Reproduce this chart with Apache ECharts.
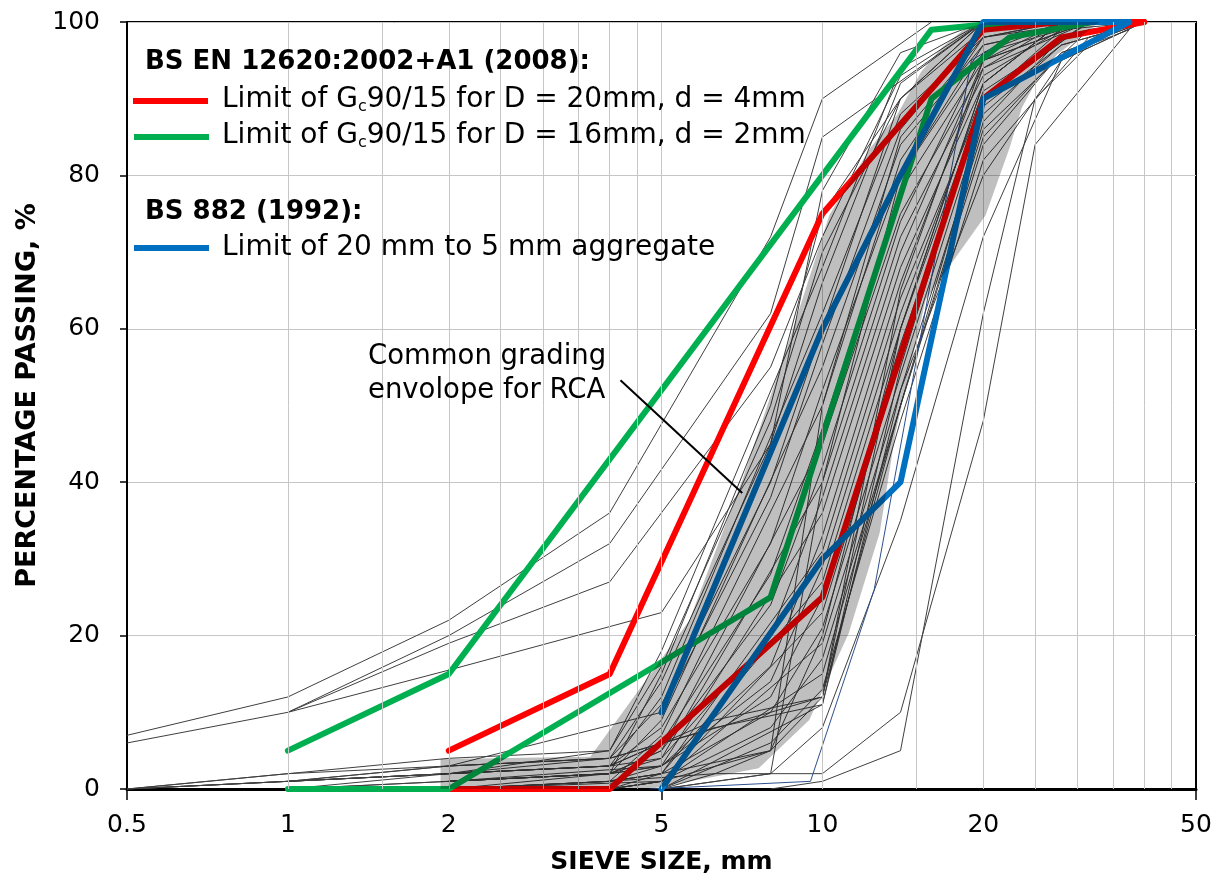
<!DOCTYPE html>
<html>
<head>
<meta charset="utf-8">
<script src="https://cdn.jsdelivr.net/npm/echarts@6/dist/echarts.min.js"></script>
<style>
  html, body { margin: 0; padding: 0; background: #ffffff; }
  #chart { width: 1226px; height: 883px; }
</style>
</head>
<body>
<div id="chart"></div>
<script>
// ---- axes ----
const xTickLabels = [0.5, 1, 2, 5, 10, 20, 50];
const xMajorTicks = [0.5, 5, 50];
const xGridLines = [1, 1.5, 2, 2.5, 3, 3.5, 4, 4.5, 5, 10, 15, 20, 25, 30, 35, 40, 45];
const yTickValues = [0, 20, 40, 60, 80, 100];

// ---- grading limits: [sieve size mm, % passing] ----
const en20x4Upper = [[2, 5], [4, 15], [10, 75], [20, 99], [28, 100], [40, 100]];
const en20x4Lower = [[2, 0], [4, 0], [10, 25], [20, 90], [28, 98], [40, 100]];
const en16x2Upper = [[1, 5], [2, 15], [16, 99], [22.4, 100], [32, 100]];
const en16x2Lower = [[1, 0], [2, 0], [8, 25], [16, 90], [22.4, 98], [32, 100]];
const bs20x5Upper = [[5, 10], [10, 60], [14, 80], [20, 100], [37.5, 100]];
const bs20x5Lower = [[5, 0], [10, 30], [14, 40], [20, 90], [37.5, 100]];

// ---- RCA grading curves ----
const rcaFine = [
  [[0.5, 7], [1, 12], [2, 22], [4, 36], [8, 72], [10, 90], [16, 100]],
  [[0.5, 6], [1, 10], [2, 20], [4, 32], [8, 62], [10, 85], [20, 100]],
  [[1, 10], [2, 15.5], [5, 23], [8, 45], [10, 78], [14, 96], [20, 100]],
  [[1, 10], [2, 19], [4, 27], [8, 55], [10, 72], [14, 93], [20, 100]]
];
const rcaMain = [
  [[0.5, 0], [1, 1], [2, 2], [4, 5], [5, 16], [8, 48], [10, 70], [14, 90], [20, 99], [28, 100]],
  [[0.5, 0], [1, 1], [2, 3], [4, 4], [5, 14], [8, 45], [10, 66], [14, 92], [20, 100]],
  [[1, 0], [2, 2], [4, 3], [5, 12], [10, 62], [14, 88], [20, 98], [31.5, 100]],
  [[0.5, 0], [1, 2], [2, 3], [5, 10], [8, 38], [10, 58], [14, 86], [20, 99], [28, 100]],
  [[2, 1], [4, 2], [5, 9], [10, 55], [14, 84], [20, 97], [31.5, 100]],
  [[1, 1], [2, 2], [4, 3], [5, 8], [8, 32], [10, 52], [14, 80], [20, 96], [28, 100]],
  [[2, 0], [4, 1], [5, 7], [10, 50], [14, 82], [20, 98], [28, 100]],
  [[0.5, 0], [1, 1], [2, 2], [4, 3], [5, 6], [8, 28], [10, 47], [14, 78], [20, 95], [31.5, 100]],
  [[2, 0], [4, 2], [5, 5], [10, 45], [14, 75], [20, 94], [28, 100]],
  [[1, 0], [2, 1], [4, 2], [5, 5], [8, 24], [10, 42], [14, 74], [20, 96], [31.5, 100]],
  [[2, 1], [4, 2], [5, 4], [10, 40], [14, 72], [20, 93], [28, 99], [40, 100]],
  [[0.5, 0], [1, 1], [2, 2], [4, 3], [5, 4], [8, 20], [10, 38], [14, 70], [20, 95], [31.5, 100]],
  [[2, 0], [4, 1], [5, 3], [10, 36], [14, 68], [20, 92], [28, 100]],
  [[2, 1], [5, 3], [8, 16], [10, 33], [14, 66], [20, 94], [31.5, 100]],
  [[4, 0], [5, 2], [10, 31], [14, 64], [20, 90], [28, 98], [40, 100]],
  [[1, 0], [2, 1], [4, 2], [5, 3], [8, 14], [10, 29], [14, 62], [20, 91], [31.5, 100]],
  [[2, 0], [4, 1], [5, 2], [10, 27], [14, 60], [20, 92], [28, 100]],
  [[2, 1], [4, 2], [5, 3], [8, 12], [10, 25], [14, 58], [20, 89], [28, 97], [40, 100]],
  [[4, 0], [5, 1], [10, 23], [14, 56], [20, 90], [31.5, 100]],
  [[2, 0], [4, 1], [5, 2], [8, 10], [10, 21], [14, 54], [20, 88], [28, 97], [40, 100]],
  [[4, 0], [5, 1], [10, 19], [14, 52], [20, 86], [31.5, 99], [40, 100]],
  [[2, 0], [5, 1], [8, 8], [10, 17], [14, 50], [20, 87], [28, 98], [40, 100]],
  [[4, 0], [5, 1], [10, 15], [14, 50], [20, 84], [28, 96], [40, 100]],
  [[5, 0], [8, 6], [10, 13], [14, 48], [20, 82], [31.5, 98], [40, 100]],
  [[4, 0], [5, 1], [8, 5], [10, 12], [14, 50], [20, 85], [28, 96], [40, 100]],
  [[5, 0], [10, 11], [14, 52], [20, 80], [28, 95], [40, 100]],
  [[2, 2], [4, 3], [6.3, 9], [10, 12], [14, 60], [20, 92], [28, 100]],
  [[2, 3], [4, 4], [6.3, 8], [10, 11], [14, 55], [20, 90], [31.5, 100]],
  [[1, 1], [2, 2], [4, 4], [8, 10], [10, 12], [14, 65], [20, 95], [28, 100]],
  [[0.5, 0], [1, 2], [2, 4], [4, 5], [5, 18], [10, 68], [14, 94], [20, 100]],
  [[1, 1], [2, 3], [4, 4], [5, 11], [8, 40], [10, 60], [14, 90], [20, 100]],
  [[4, 1], [5, 2], [8, 5], [10, 50], [14, 85], [20, 98], [28, 100]],
  [[5, 0], [8, 2], [10, 40], [14, 80], [20, 97], [31.5, 100]],
  [[2, 1], [4, 2], [5, 15], [8, 50], [10, 75], [14, 90], [20, 100]]
];
const rcaCoarse = [
  [[5, 0], [8, 2], [10, 2], [14, 10], [20, 48], [25, 84], [37.5, 99]],
  [[8, 0], [10, 1], [14, 5], [20, 62], [25, 90], [31.5, 97], [37.5, 99]],
  [[5, 0], [6.3, 2], [8, 2], [10, 8], [14, 35], [20, 72], [28, 95], [40, 100]],
  [[4, 1], [6.3, 2], [8, 5], [10, 20], [14, 60], [20, 90], [28, 99]]
];
const rcaNavy = [[4.75, 0], [9.5, 1], [12.5, 26], [19, 95], [25, 100]];

// ---- common grading envelope outline ----
const envelope = [
  [1.93, 0], [1.93, 3.9], [3.68, 4.2], [5.64, 22], [7.08, 40.3], [8.67, 58.5],
  [10.3, 74.8], [12.3, 83.6], [13.8, 87.9], [15.3, 93.5], [16.7, 96.6], [18.5, 99.2],
  [20.4, 100], [33, 100], [30.7, 98.3], [27.4, 95.7], [25.1, 92.2], [23.6, 88.8],
  [22.4, 83.6], [20.2, 74.8], [15.6, 63.8], [13.7, 46.4], [12.8, 33.4], [11.2, 20.3],
  [9.45, 9.0], [7.6, 2.7], [4.75, 0]
];
const arrowFrom = [4.19, 53.3];
const arrowTo = [7.08, 38.6];

const FONT = 'DejaVu Sans';
const chart = echarts.init(document.getElementById('chart'), null, { renderer: 'canvas' });

const thin = (data, color) => ({
  type: 'line', data, symbol: 'none', silent: true, z: 2,
  lineStyle: { color: color || '#3f3f3f', width: 1 }
});
const thick = (data, color) => ({
  type: 'line', data, symbol: 'none', silent: true, z: 3,
  lineStyle: { color, width: 6, cap: 'round', join: 'round' }
});

const series = [];
// vertical grid lines
series.push({
  type: 'line', data: [], silent: true, z: 1,
  markLine: {
    silent: true, symbol: 'none', animation: false,
    label: { show: false },
    lineStyle: { color: '#c6c6c6', width: 1, type: 'solid' },
    data: xGridLines.map(v => ({ xAxis: v }))
  }
});
rcaFine.forEach(d => series.push(thin(d)));
rcaMain.forEach(d => series.push(thin(d)));
rcaCoarse.forEach(d => series.push(thin(d)));
series.push(thin(rcaNavy, '#2c4f8f'));
series.push(thick(en20x4Upper, '#ff0000'));
series.push(thick(en20x4Lower, '#ff0000'));
series.push(thick(en16x2Upper, '#00b050'));
series.push(thick(en16x2Lower, '#00b050'));
series.push(thick(bs20x5Upper, '#0070c0'));
series.push(thick(bs20x5Lower, '#0070c0'));
// shaded envelope, laid semi-transparently over every curve
series.push({
  type: 'custom', silent: true, zlevel: 1, z: 4,
  data: [[1, 50]],
  renderItem: (params, api) => ({
    type: 'polygon',
    shape: { points: envelope.map(p => api.coord(p)) },
    style: { fill: 'rgba(0,0,0,0.25)', stroke: null }
  })
});
// annotation arrow
series.push({
  type: 'line', data: [], silent: true, zlevel: 1, z: 5,
  markLine: {
    silent: true, animation: false,
    symbol: ['none', 'arrow'], symbolSize: [0, 14],
    label: { show: false },
    lineStyle: { color: '#000000', width: 2, type: 'solid' },
    data: [[{ coord: arrowFrom }, { coord: arrowTo }]]
  }
});

const legendText = { fontFamily: FONT, fontSize: 28, fill: '#000' };
const legendRich = {
  s: { fontFamily: FONT, fontSize: 16, padding: [14, 0, 0, 0] }
};

chart.setOption({
  animation: false,
  backgroundColor: '#ffffff',
  grid: {
    left: 127, right: 30, top: 22, bottom: 94,
    show: true, borderColor: '#000000', borderWidth: 2, backgroundColor: 'transparent'
  },
  xAxis: {
    type: 'log', logBase: 10, min: 0.5, max: 50,
    name: 'SIEVE SIZE, mm', nameLocation: 'middle', nameGap: 61,
    nameTextStyle: { fontFamily: FONT, fontSize: 25, fontWeight: 'bold', color: '#000' },
    axisLine: { lineStyle: { color: '#000', width: 3 } },
    axisTick: { show: true, customValues: xMajorTicks, length: 11, lineStyle: { color: '#000', width: 1.5 } },
    axisLabel: {
      customValues: xTickLabels, margin: 24,
      fontFamily: FONT, fontSize: 25, color: '#000',
      formatter: v => String(+v.toPrecision(3))
    },
    splitLine: { show: false }
  },
  yAxis: {
    type: 'value', min: 0, max: 100, interval: 20,
    name: 'PERCENTAGE PASSING, %', nameLocation: 'middle', nameGap: 83, nameRotate: 90,
    nameTextStyle: { fontFamily: FONT, fontSize: 27, fontWeight: 'bold', color: '#000', padding: [0, 0, 0, 20] },
    axisLine: { show: true, lineStyle: { color: '#000', width: 2 } },
    axisTick: { show: true, length: 7, lineStyle: { color: '#000', width: 1.5 } },
    axisLabel: { margin: 27, fontFamily: FONT, fontSize: 25, color: '#000' },
    splitLine: { show: true, lineStyle: { color: '#c6c6c6', width: 1 } }
  },
  graphic: [
    { type: 'text', x: 145, y: 62, z: 10, style: { text: 'BS EN 12620:2002+A1 (2008):', fontFamily: FONT, fontSize: 26, fontWeight: 'bold', fill: '#000', verticalAlign: 'middle' } },
    { type: 'line', z: 10, shape: { x1: 133, y1: 101, x2: 208, y2: 101 }, style: { stroke: '#ff0000', lineWidth: 6 } },
    { type: 'text', x: 222, y: 100, z: 10, style: Object.assign({ text: 'Limit of G{s|c}90/15 for D = 20mm, d = 4mm', verticalAlign: 'middle', rich: legendRich }, legendText) },
    { type: 'line', z: 10, shape: { x1: 134, y1: 137, x2: 209, y2: 137 }, style: { stroke: '#00b050', lineWidth: 6 } },
    { type: 'text', x: 222, y: 136, z: 10, style: Object.assign({ text: 'Limit of G{s|c}90/15 for D = 16mm, d = 2mm', verticalAlign: 'middle', rich: legendRich }, legendText) },
    { type: 'text', x: 145, y: 212, z: 10, style: { text: 'BS 882 (1992):', fontFamily: FONT, fontSize: 26, fontWeight: 'bold', fill: '#000', verticalAlign: 'middle' } },
    { type: 'line', z: 10, shape: { x1: 134, y1: 248, x2: 209, y2: 248 }, style: { stroke: '#0070c0', lineWidth: 6 } },
    { type: 'text', x: 222, y: 248, z: 10, style: Object.assign({ text: 'Limit of 20 mm to 5 mm aggregate', verticalAlign: 'middle' }, legendText) },
    { type: 'text', x: 368, y: 340, z: 10, style: { text: 'Common grading\nenvolope for RCA', fontFamily: FONT, fontSize: 27.5, lineHeight: 34, fill: '#000', verticalAlign: 'top' } }
  ],
  series
});
</script>
</body>
</html>
